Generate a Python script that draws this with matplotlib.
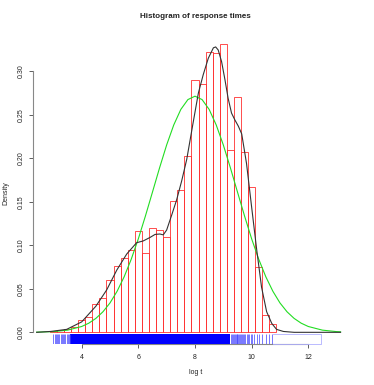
import matplotlib
matplotlib.use("Agg")
import matplotlib.pyplot as plt
import matplotlib.transforms as mtransforms

plt.rcParams['font.family'] = ['Liberation Sans', 'DejaVu Sans']

# histogram of log response times (bin width 0.25)
bin_left = [2.875, 3.125, 3.375, 3.625, 3.875, 4.125, 4.375, 4.625, 4.875, 5.125,
            5.375, 5.625, 5.875, 6.125, 6.375, 6.625, 6.875, 7.125, 7.375, 7.625,
            7.875, 8.125, 8.375, 8.625, 8.875, 9.125, 9.375, 9.625, 9.875, 10.125,
            10.375, 10.625]
density = [0.0015, 0.0026, 0.004, 0.0057, 0.0138, 0.018, 0.0325, 0.040, 0.060, 0.076,
           0.085, 0.0946, 0.116, 0.0908, 0.120, 0.118, 0.109, 0.1506, 0.163, 0.203,
           0.290, 0.285, 0.3225, 0.3207, 0.331, 0.210, 0.270, 0.207, 0.167, 0.075,
           0.020, 0.009]
bin_width = 0.25

# kernel density estimate (black)
kde_x = [2.41, 2.9, 3.47, 4.0, 4.5, 4.88, 5.24, 5.59, 5.94, 6.17, 6.41, 6.59, 6.76,
         6.88, 7.0, 7.18, 7.35, 7.53, 7.71, 7.94, 8.12, 8.29, 8.47, 8.65, 8.73, 8.82,
         8.94, 9.06, 9.17, 9.29, 9.41, 9.53, 9.65, 9.82, 10.0, 10.18, 10.35, 10.53,
         10.71, 10.88, 11.12, 11.5, 13.14]
kde_y = [0.0, 0.001, 0.0034, 0.012, 0.030, 0.0486, 0.0716, 0.090, 0.103, 0.105, 0.109,
         0.1125, 0.113, 0.112, 0.1176, 0.135, 0.152, 0.174, 0.199, 0.242, 0.275, 0.296,
         0.315, 0.327, 0.328, 0.3245, 0.311, 0.290, 0.269, 0.252, 0.244, 0.237, 0.228,
         0.194, 0.144, 0.0946, 0.052, 0.0237, 0.0103, 0.0034, 0.001, 0.0, 0.0]

# fitted normal curve (green)
norm_x = [2.41, 3.0, 3.5, 4.0, 4.25, 4.5, 4.75, 5.0, 5.25, 5.5, 5.75, 6.0, 6.25, 6.5,
          6.75, 7.0, 7.25, 7.5, 7.75, 8.0, 8.25, 8.5, 8.75, 9.0, 9.25, 9.5, 9.75,
          10.0, 10.25, 10.5, 10.75, 11.0, 11.25, 11.5, 11.75, 12.0, 12.5, 13.0, 13.14]
norm_y = [0.0002, 0.0008, 0.0025, 0.0067, 0.0105, 0.0160, 0.0236, 0.0338, 0.0472,
          0.0639, 0.0841, 0.1075, 0.1337, 0.1613, 0.1891, 0.2154, 0.2383, 0.2562,
          0.2675, 0.2714, 0.2675, 0.2562, 0.2383, 0.2154, 0.1891, 0.1613, 0.1337,
          0.1075, 0.0841, 0.0639, 0.0472, 0.0338, 0.0236, 0.0160, 0.0105, 0.0067,
          0.0025, 0.0008, 0.0006]

# rug: dense core plus individual ticks at the fringes
rug_core = (3.6, 9.25)
rug_ticks = [3.0, 3.04, 3.08, 3.13, 3.16, 3.2, 3.26, 3.3, 3.34, 3.38, 3.42, 3.47,
             3.5, 3.54, 3.57, 9.27, 9.3, 9.33, 9.37, 9.4, 9.44, 9.47, 9.5, 9.53,
             9.57, 9.6, 9.63, 9.67, 9.7, 9.74, 9.78, 9.82, 9.87, 9.92, 9.97, 10.03,
             10.1, 10.18, 10.26, 10.38, 10.5, 10.62, 10.72]
rug_outlier = (10.75, 12.45)

fig = plt.figure(figsize=(3.74, 3.85), dpi=100)
ax = fig.add_axes([0.0882, 0.107, 0.8663, 0.8086])

ax.bar(bin_left, density, width=bin_width, align='edge', fill=False,
       edgecolor='#ff3030', linewidth=0.6, zorder=2)
ax.plot(norm_x, norm_y, color='#22dd22', linewidth=0.8, zorder=3)
ax.plot(kde_x, kde_y, color='#333333', linewidth=0.8, zorder=4)

trans = mtransforms.blended_transform_factory(ax.transData, ax.transAxes)
ax.axvspan(rug_core[0], rug_core[1], ymin=0, ymax=0.03, color='#0000ff',
           linewidth=0, zorder=5)
ax.vlines(rug_ticks, 0, 0.03, transform=trans, color='#4040ff', linewidth=0.5,
          zorder=5)
ax.plot([rug_outlier[0], rug_outlier[1], rug_outlier[1], rug_outlier[0]],
        [0.03, 0.03, 0.0, 0.0], transform=trans, color='#b0b0ff', linewidth=0.6,
        zorder=5, clip_on=False)

ax.set_xlim(2.28, 13.72)
ax.set_ylim(-0.0132, 0.3446)

for s in ['top', 'right']:
    ax.spines[s].set_visible(False)
ax.spines['left'].set_bounds(0, 0.30)
ax.spines['bottom'].set_bounds(4, 12)
for s in ['left', 'bottom']:
    ax.spines[s].set_color('#888888')
    ax.spines[s].set_linewidth(0.8)

ax.set_xticks([4, 6, 8, 10, 12])
ax.set_yticks([0.0, 0.05, 0.10, 0.15, 0.20, 0.25, 0.30])
ax.set_yticklabels(['0.00', '0.05', '0.10', '0.15', '0.20', '0.25', '0.30'],
                   rotation=90, va='center')
ax.tick_params(axis='both', length=2.8, width=0.6, color='#444444',
               labelsize=5.0, labelcolor='#222222')
ax.tick_params(axis='x', pad=4.5)
ax.tick_params(axis='y', pad=3.0)

fig.text(0.522, 0.957, 'Histogram of response times', ha='center', va='center',
         fontsize=5.8, fontweight='bold', color='#222222')
fig.text(0.522, 0.032, 'log t', ha='center', va='center', fontsize=5.0,
         color='#222222')
fig.text(0.016, 0.498, 'Density', ha='center', va='center', rotation=90,
         fontsize=5.0, color='#222222')

fig.savefig('out.png', dpi=100)
